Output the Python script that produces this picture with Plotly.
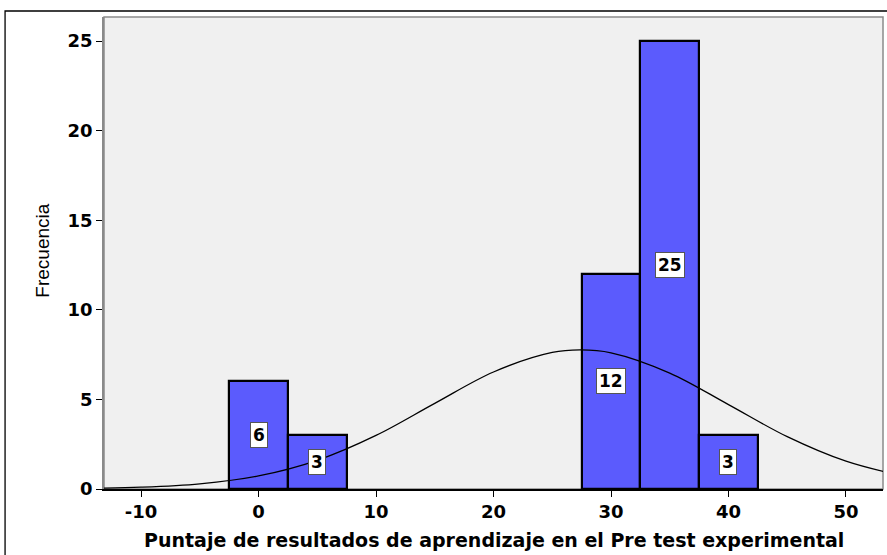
import plotly.graph_objects as go

# Histogram data (bin centers, bin width 5)
bin_centers = [0, 5, 30, 35, 40]
frequencies = [6, 3, 12, 25, 3]
bin_width = 5

# Normal curve
curve_x = [-15, -10, -5, 0, 5, 10, 15, 20, 25, 27.4, 30, 35, 40, 45, 50, 55]
curve_y = [0.03, 0.10, 0.29, 0.73, 1.60, 2.99, 4.78, 6.53, 7.62, 7.76, 7.60, 6.47, 4.71, 2.92, 1.55, 0.70]

x_ticks = [-10, 0, 10, 20, 30, 40, 50]
y_ticks = [0, 5, 10, 15, 20, 25]

x_title = "Puntaje de resultados de aprendizaje en el Pre test experimental"
y_title = "Frecuencia"

BOLD = "DejaVu Sans, Arial, sans-serif"
PLAIN = "Liberation Sans, Arial, sans-serif"

fig = go.Figure()
fig.add_trace(go.Bar(
    x=bin_centers, y=frequencies, width=[bin_width] * len(bin_centers),
    marker=dict(color="#5b5bfd", line=dict(color="black", width=2.2)),
    hoverinfo="x+y", showlegend=False,
))
fig.add_trace(go.Scatter(
    x=curve_x, y=curve_y, mode="lines",
    line=dict(color="black", width=1.3, shape="spline", smoothing=1.0),
    showlegend=False, hoverinfo="skip",
))

annotations = []
for xc, f in zip(bin_centers, frequencies):
    annotations.append(dict(
        x=xc, y=f / 2, xref="x", yref="y", text=str(f), showarrow=False,
        font=dict(family=BOLD, size=17, color="black", weight="bold"),
        bgcolor="white", bordercolor="#555555", borderwidth=1, borderpad=2,
    ))
annotations.append(dict(
    x=-0.079, y=0.506, xref="paper", yref="paper", text=y_title, showarrow=False,
    textangle=-90, xanchor="center", yanchor="middle",
    font=dict(family=PLAIN, size=19, color="black"),
))
annotations.append(dict(
    x=0.5, y=-0.08, xref="paper", yref="paper", text=x_title, showarrow=False,
    xanchor="center", yanchor="top",
    font=dict(family=BOLD, size=19, color="black", weight="bold"),
))

fig.update_layout(
    width=887, height=555,
    margin=dict(l=104, r=4, t=17, b=66),
    paper_bgcolor="white", plot_bgcolor="#f0f0f0",
    bargap=0,
    annotations=annotations,
    shapes=[
        dict(type="rect", xref="paper", yref="paper", x0=0, x1=1, y0=0, y1=1,
             line=dict(color="#8a8a8a", width=1.5), layer="below"),
        dict(type="rect", xref="paper", yref="paper", x0=-0.127, x1=1.02, y0=-0.2, y1=1.0127,
             line=dict(color="black", width=1.3), fillcolor="rgba(0,0,0,0)", layer="above"),
    ],
    xaxis=dict(
        range=[-13.15, 53.15], tickvals=x_ticks, ticktext=[str(v) for v in x_ticks],
        showgrid=False, zeroline=False, showline=True, linecolor="black", linewidth=1.5,
        ticks="outside", ticklen=6, tickcolor="black", tickwidth=1,
        tickfont=dict(family=BOLD, size=18, color="black", weight="bold"),
    ),
    yaxis=dict(
        range=[0, 26.34], tickvals=y_ticks, ticktext=[str(v) for v in y_ticks],
        showgrid=False, zeroline=False, showline=True, linecolor="#8a8a8a", linewidth=1.5,
        ticks="outside", ticklen=6, tickcolor="black", tickwidth=1,
        tickfont=dict(family=BOLD, size=18, color="black", weight="bold"),
    ),
)

fig.write_html(
    "out.html",
    config={"displayModeBar": False},
    post_script="document.body.style.margin='0';document.body.style.padding='0';",
)
